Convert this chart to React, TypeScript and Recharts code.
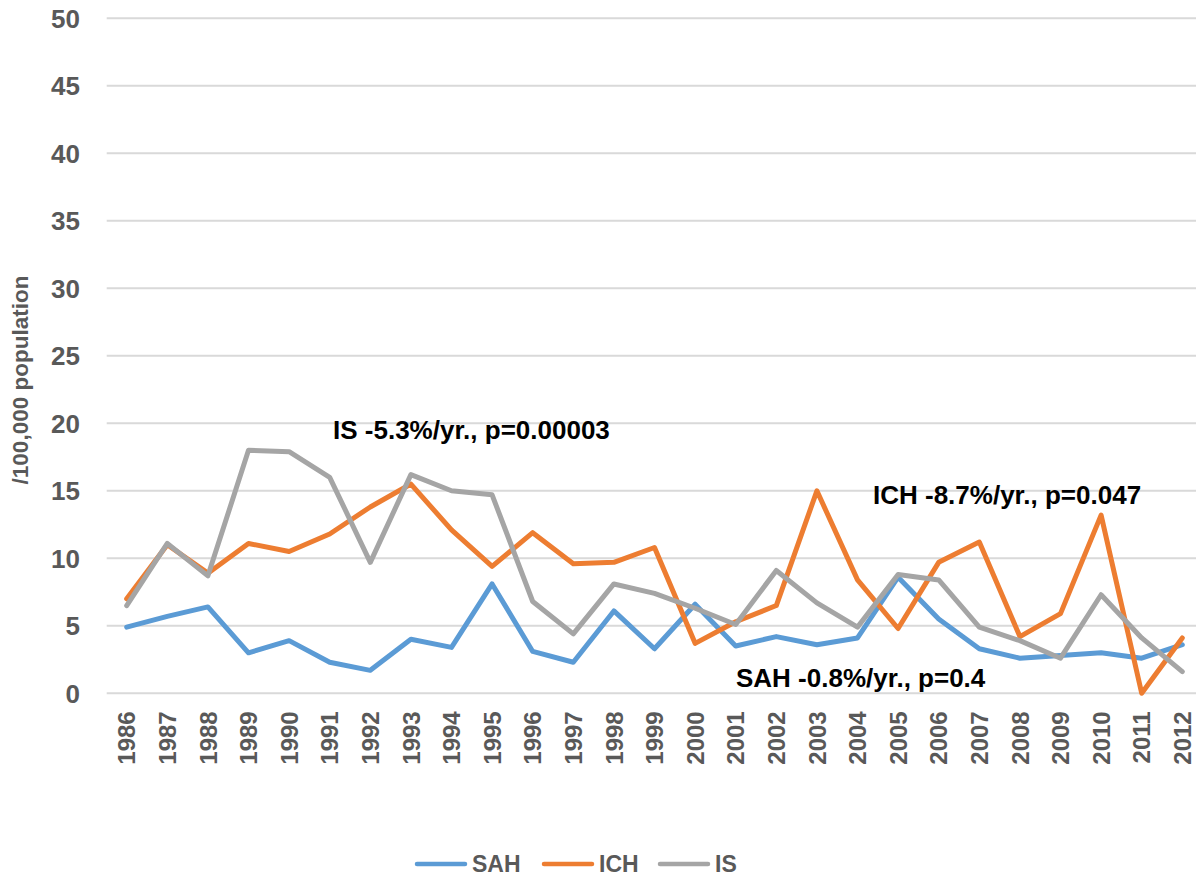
import React from 'react';
import { LineChart, Line, XAxis, YAxis, CartesianGrid } from 'recharts';

const years = ['1986', '1987', '1988', '1989', '1990', '1991', '1992', '1993', '1994', '1995', '1996', '1997', '1998', '1999', '2000', '2001', '2002', '2003', '2004', '2005', '2006', '2007', '2008', '2009', '2010', '2011', '2012'];
const sahValues = [4.9, 5.7, 6.4, 3.0, 3.9, 2.3, 1.7, 4.0, 3.4, 8.1, 3.1, 2.3, 6.1, 3.3, 6.6, 3.5, 4.2, 3.6, 4.1, 8.6, 5.5, 3.3, 2.6, 2.8, 3.0, 2.6, 3.6];
const ichValues = [7.0, 11.0, 8.9, 11.1, 10.5, 11.8, 13.8, 15.5, 12.1, 9.4, 11.9, 9.6, 9.7, 10.8, 3.7, 5.3, 6.5, 15.0, 8.4, 4.8, 9.7, 11.2, 4.2, 5.9, 13.2, 0.0, 4.1];
const isValues = [6.5, 11.1, 8.7, 18.0, 17.9, 16.0, 9.7, 16.2, 15.0, 14.7, 6.8, 4.4, 8.1, 7.4, 6.3, 5.1, 9.1, 6.7, 4.9, 8.8, 8.4, 4.9, 3.9, 2.6, 7.3, 4.1, 1.6];
const yTicks = [0, 5, 10, 15, 20, 25, 30, 35, 40, 45, 50];
const seriesNames = ['SAH', 'ICH', 'IS'];
const seriesColors = ['#5B9BD5', '#ED7D31', '#A5A5A5'];
const yAxisTitle = '/100,000 population';
const annotationIS = 'IS -5.3%/yr., p=0.00003';
const annotationICH = 'ICH -8.7%/yr., p=0.047';
const annotationSAH = 'SAH -0.8%/yr., p=0.4';

const data = years.map((year, i) => ({
  year,
  SAH: sahValues[i],
  ICH: ichValues[i],
  IS: isValues[i],
}));

const FONT = "'Liberation Sans', Arial, sans-serif";
const W = 1196;
const H = 875;

const XTick = (props: any) => {
  const { x, y, payload } = props;
  return (
    <text
      x={x}
      y={y}
      transform={`rotate(-90, ${x}, ${y})`}
      textAnchor="end"
      dx={-18}
      dy="0.36em"
      fill="#595959"
      fontSize={24}
      fontWeight="bold"
      fontFamily={FONT}
    >
      {payload.value}
    </text>
  );
};

const legendStarts = [415, 542, 658];

export default function App() {
  return (
    <div style={{ position: 'absolute', left: 0, top: 0, width: W, height: H, background: '#fff' }}>
      <LineChart
        width={W}
        height={H}
        data={data}
        margin={{ top: 18.3, right: 0, bottom: 121.7, left: 0 }}
        style={{ fontFamily: FONT }}
      >
        <CartesianGrid vertical={false} stroke="#d9d9d9" strokeWidth={2} />
        <XAxis
          dataKey="year"
          interval={0}
          tick={<XTick />}
          tickLine={false}
          axisLine={false}
          tickSize={0}
          tickMargin={0}
          height={60}
          padding={{ left: 20, right: 13.7 }}
        />
        <YAxis
          domain={[0, 50]}
          ticks={yTicks}
          width={106.7}
          tickLine={false}
          axisLine={false}
          tickSize={0}
          tickMargin={26.7}
          tick={{ fill: '#595959', fontSize: 26, fontWeight: 'bold', fontFamily: FONT }}
        />
        {seriesNames.map((name, i) => (
          <Line
            key={name}
            type="linear"
            dataKey={name}
            stroke={seriesColors[i]}
            strokeWidth={5}
            strokeLinejoin="round"
            strokeLinecap="round"
            dot={false}
            activeDot={false}
            isAnimationActive={false}
          />
        ))}
      </LineChart>
      <svg
        width={W}
        height={H}
        style={{ position: 'absolute', left: 0, top: 0, pointerEvents: 'none' }}
        fontFamily={FONT}
      >
        <text
          x={28}
          y={380}
          transform="rotate(-90, 28, 380)"
          textAnchor="middle"
          fill="#595959"
          fontSize={22.5}
          fontWeight="bold"
        >
          {yAxisTitle}
        </text>
        <text x={333} y={439} fontSize={26} fontWeight="bold" fill="#000">{annotationIS}</text>
        <text x={873} y={504} fontSize={26} fontWeight="bold" fill="#000">{annotationICH}</text>
        <text x={736} y={687} fontSize={26} fontWeight="bold" fill="#000">{annotationSAH}</text>
        {seriesNames.map((name, i) => (
          <g key={name}>
            <line
              x1={legendStarts[i] + 2}
              x2={legendStarts[i] + 50}
              y1={864}
              y2={864}
              stroke={seriesColors[i]}
              strokeWidth={4.5}
              strokeLinecap="round"
            />
            <text x={legendStarts[i] + 57} y={871.5} fontSize={23} fontWeight="bold" fill="#595959">
              {name}
            </text>
          </g>
        ))}
      </svg>
    </div>
  );
}
